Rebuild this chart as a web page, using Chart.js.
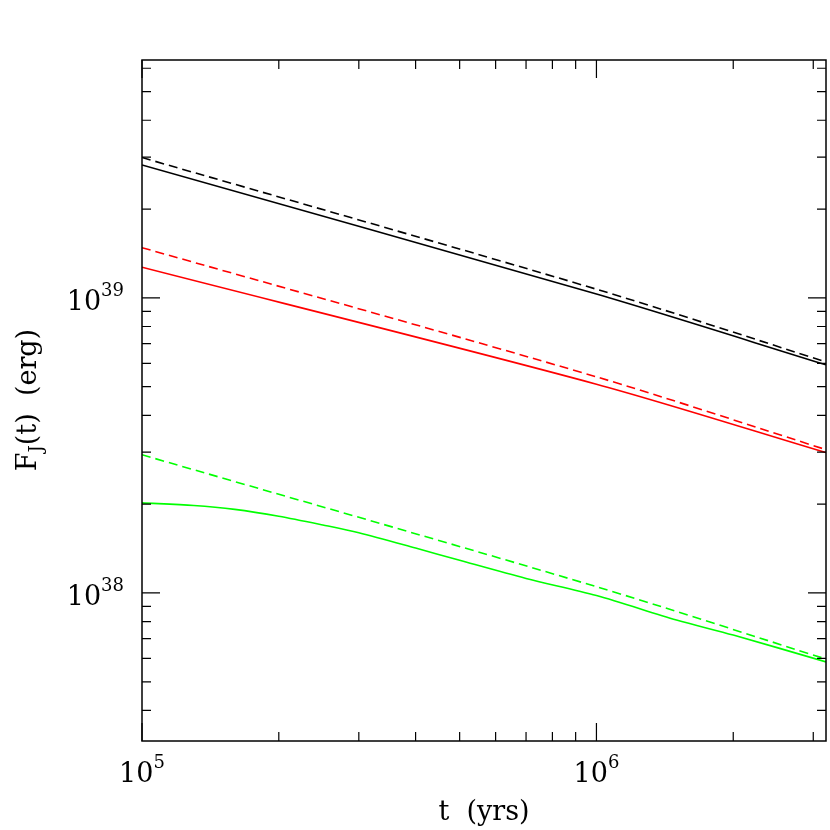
<!DOCTYPE html>
<html><head><meta charset="utf-8">
<script src="https://cdn.jsdelivr.net/npm/chart.js@4"></script>
<style>html,body{margin:0;padding:0;background:#fff}#wrap{width:830px;height:830px}</style>
</head><body><div id="wrap"><canvas id="c" width="830" height="830"></canvas></div>
<script>
const tBlack = [1e5, 1e6, 3.2e6];
const blackSolid = [2.82e39, 1.03e39, 5.93e38];
const blackDashed = [2.99e39, 1.07e39, 6.07e38];
const tRed = [1e5, 1e6, 3.2e6];
const redSolid = [1.27e39, 5.1e38, 2.99e38];
const redDashed = [1.48e39, 5.4e38, 3.06e38];
const tGreen = [1e5, 1.3e5, 1.6e5, 2e5, 2.5e5, 3e5, 4e5, 5e5, 7e5, 1e6, 1.5e6, 2e6, 3.2e6];
const greenSolid = [2.02e38, 1.98e38, 1.92e38, 1.82e38, 1.7e38, 1.6e38, 1.42e38, 1.29e38, 1.12e38, 9.8e37, 8.1e37, 7.2e37, 5.84e37];
const tGreenD = [1e5, 1e6, 3.2e6];
const greenDashed = [2.94e38, 1.05e38, 5.97e37];
const xMajor = [1e5, 1e6];
const xMajorExp = ['5', '6'];
const yMajor = [1e38, 1e39];
const yMajorExp = ['38', '39'];

const pts = (xs, ys) => xs.map((x, i) => ({x, y: ys[i]}));
const ds = (xs, ys, color, dash) => ({data: pts(xs, ys), borderColor: color, borderWidth: 1.6,
  borderDash: dash ? [9, 5] : [], pointRadius: 0, fill: false, tension: 0.3});

const axesPlugin = {
  id: 'axesPlugin',
  afterDraw(chart) {
    const ctx = chart.ctx, a = chart.chartArea, xs = chart.scales.x, ys = chart.scales.y;
    ctx.save();
    ctx.strokeStyle = '#000'; ctx.lineWidth = 1.5;
    ctx.strokeRect(a.left, a.top, a.right - a.left, a.bottom - a.top);
    ctx.lineWidth = 1.2;
    const xt = [];
    for (let e = 5; e <= 6; e++) for (let m = 1; m <= 9; m++) { const v = m * Math.pow(10, e); if (v <= xs.max) xt.push([v, m === 1]); }
    xt.forEach(([v, maj]) => { const p = xs.getPixelForValue(v), L = maj ? 18 : 9;
      ctx.beginPath(); ctx.moveTo(p, a.bottom); ctx.lineTo(p, a.bottom - L); ctx.moveTo(p, a.top); ctx.lineTo(p, a.top + L); ctx.stroke(); });
    const yt = [];
    for (let e = 37; e <= 39; e++) for (let m = 1; m <= 9; m++) { const v = m * Math.pow(10, e); if (v >= ys.min && v <= ys.max) yt.push([v, m === 1]); }
    yt.forEach(([v, maj]) => { const p = ys.getPixelForValue(v), L = maj ? 18 : 9;
      ctx.beginPath(); ctx.moveTo(a.left, p); ctx.lineTo(a.left + L, p); ctx.moveTo(a.right, p); ctx.lineTo(a.right - L, p); ctx.stroke(); });
    ctx.fillStyle = '#000';
    const big = '27px "DejaVu Serif"', small = '18px "DejaVu Serif"';
    xMajor.forEach((v, i) => {
      const p = xs.getPixelForValue(v);
      ctx.font = big; const w1 = ctx.measureText('10').width;
      ctx.font = small; const w2 = ctx.measureText(xMajorExp[i]).width;
      const x0 = p - (w1 + w2) / 2;
      ctx.textBaseline = 'alphabetic'; ctx.textAlign = 'left';
      ctx.font = big; ctx.fillText('10', x0, 782);
      ctx.font = small; ctx.fillText(xMajorExp[i], x0 + w1, 768);
    });
    yMajor.forEach((v, i) => {
      const p = ys.getPixelForValue(v);
      ctx.font = small; const w2 = ctx.measureText(yMajorExp[i]).width;
      ctx.font = big; const w1 = ctx.measureText('10').width;
      const xr = 124, x0 = xr - w1 - w2;
      ctx.textAlign = 'left'; ctx.textBaseline = 'alphabetic';
      ctx.fillText('10', x0, p + 12);
      ctx.font = small; ctx.fillText(yMajorExp[i], x0 + w1, p - 2);
    });
    ctx.font = big; ctx.textAlign = 'center';
    ctx.fillText('t  (yrs)', (a.left + a.right) / 2, 820);
    ctx.translate(36, 400); ctx.rotate(-Math.PI / 2);
    ctx.textAlign = 'left';
    const parts = [['F', big, 0], ['J', small, 6], ['(t)  (erg)', big, 0]];
    let tw = 0; parts.forEach(([t, f]) => { ctx.font = f; tw += ctx.measureText(t).width; });
    let x = -tw / 2;
    parts.forEach(([t, f, dy]) => { ctx.font = f; ctx.fillText(t, x, dy); x += ctx.measureText(t).width; });
    ctx.restore();
  }
};

new Chart(document.getElementById('c'), {
  type: 'line',
  data: { datasets: [
    ds(tBlack, blackSolid, '#000', false), ds(tBlack, blackDashed, '#000', true),
    ds(tRed, redSolid, '#ff0000', false), ds(tRed, redDashed, '#ff0000', true),
    ds(tGreen, greenSolid, '#00ff00', false), ds(tGreenD, greenDashed, '#00ff00', true)
  ]},
  options: {
    responsive: false, animation: false, devicePixelRatio: 1,
    layout: { padding: { left: 142, right: 4, top: 60, bottom: 89 } },
    plugins: { legend: { display: false }, tooltip: { enabled: false } },
    scales: {
      x: { type: 'logarithmic', min: 1e5, max: 3.2e6, display: true, ticks: { display: false }, grid: { display: false }, border: { display: false }, afterFit(s) { s.height = 0; } },
      y: { type: 'logarithmic', min: 3.15e37, max: 6.4e39, display: true, ticks: { display: false }, grid: { display: false }, border: { display: false }, afterFit(s) { s.width = 0; } }
    }
  },
  plugins: [axesPlugin]
});
</script></body></html>
